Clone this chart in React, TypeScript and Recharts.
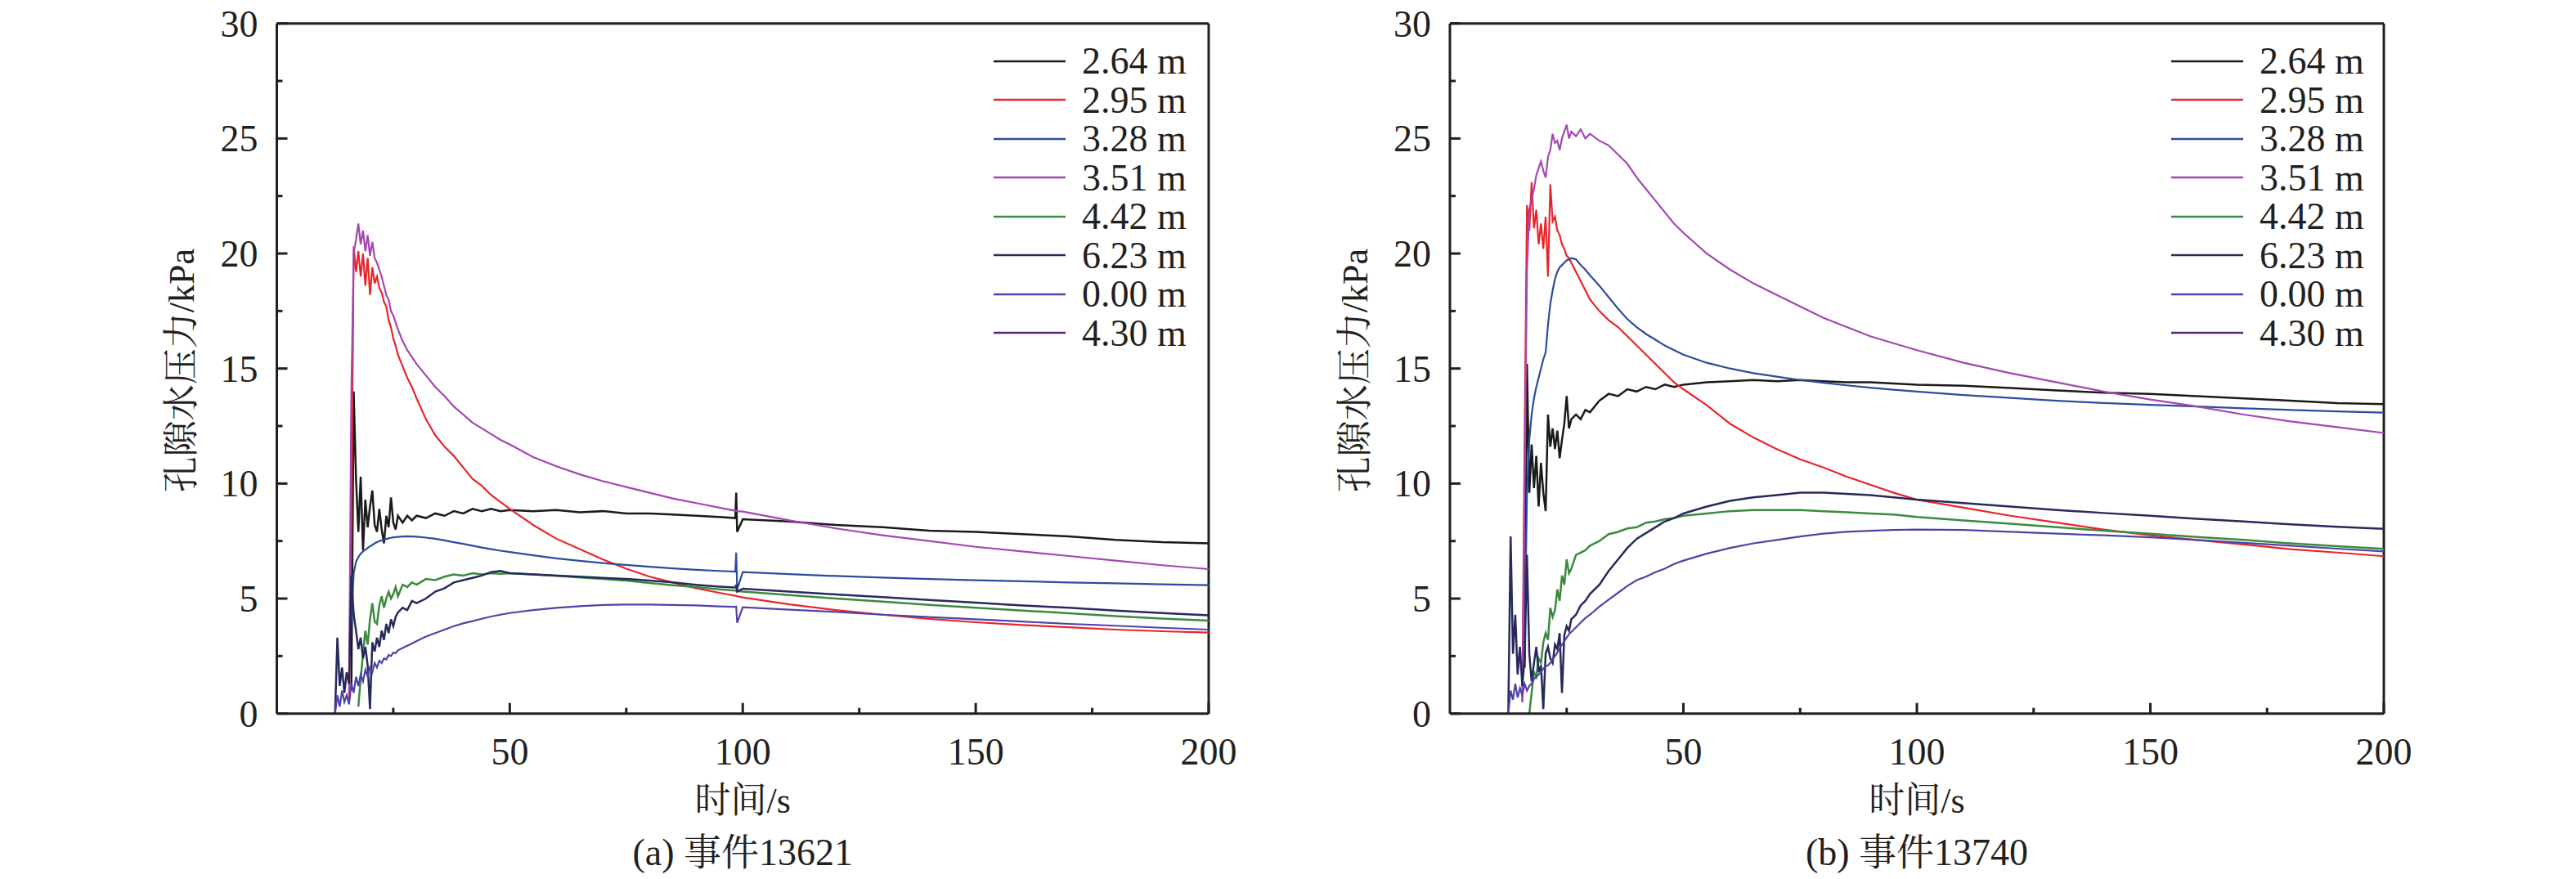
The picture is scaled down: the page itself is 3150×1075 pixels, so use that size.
import React from 'react';
import { LineChart, Line, XAxis, YAxis, ReferenceLine, Legend } from 'recharts';

const SERIF = "'Liberation Serif', 'Noto Serif CJK SC', 'Noto Sans CJK SC', serif";
const INK = '#231f20';

const depthLabels = ['2.64 m', '2.95 m', '3.28 m', '3.51 m', '4.42 m', '6.23 m', '0.00 m', '4.30 m'];
const depthColors = ['#1a1a1a', '#e8252b', '#2b4c9f', '#a347b2', '#3b8a3e', '#262a5c', '#4f43a8', '#5c2674'];

const xTicks = [25, 50, 75, 100, 125, 150, 175, 200];
const yTicks = [0, 2.5, 5, 7.5, 10, 12.5, 15, 17.5, 20, 22.5, 25, 27.5, 30];

// (a) event 13621
const tA = [12.5, 13, 13.5, 14, 14.5, 15, 15.5, 16, 16.5, 17, 17.5, 18, 18.5, 19, 19.5, 20, 20.5, 21, 21.5, 22, 22.5, 23, 23.5, 24, 24.5, 25, 25.5, 26,
  27, 28, 29, 30, 32, 34, 36, 38, 40, 42, 44, 46, 48, 50, 55, 60, 65, 70, 75, 80, 85, 90, 95, 98.4, 98.6, 98.8, 100,
  110, 120, 130, 140, 150, 160, 170, 180, 190, 200];
const a264 = [null, null, null, null, null, null, null, 1.0, 14.0, 10.2, 7.9, 10.3, 7.1, 9.3, 8.1, 9.0, 9.7,
  8.2, 7.9, 8.9, 8.0, 7.4, 8.6, 8.1, 9.4, 8.3, 8.0, 8.6, 8.3, 8.6, 8.4, 8.6,
  8.5, 8.7, 8.6, 8.8, 8.7, 8.9, 8.8, 8.9, 8.8, 8.85, 8.8, 8.85, 8.75, 8.8, 8.7, 8.7, 8.65, 8.6, 8.55,
  8.5, 9.6, 7.9, 8.45, 8.35, 8.2, 8.1, 7.95, 7.9, 7.8, 7.7, 7.55, 7.45, 7.4];
const a295 = [null, null, null, null, null, null, 0.5, 8, 20.3, 19.2, 20.1, 19.0, 20.0, 18.6, 19.8, 18.2, 19.4,
  18.7, 19.0, 18.5, 18.3, 17.9, 17.7, 17.1, 16.8, 16.3, 16.0, 15.6, 15.1, 14.6, 14.2, 13.7,
  12.8, 12.1, 11.6, 11.2, 10.7, 10.2, 9.9, 9.5, 9.2, 8.9, 8.2, 7.6, 7.15, 6.7, 6.3, 5.95, 5.7, 5.45, 5.25,
  5.12, 5.12, 5.1, 5.05, 4.75, 4.5, 4.3, 4.12, 3.97, 3.85, 3.75, 3.65, 3.58, 3.52];
const a328 = [null, null, null, null, null, null, null, 4.0, 6.1, 6.6, 6.8, 6.95, 7.05, 7.12, 7.2, 7.27, 7.33,
  7.4, 7.45, 7.5, 7.53, 7.56, 7.59, 7.62, 7.64, 7.66, 7.67, 7.68, 7.7, 7.71, 7.7, 7.69,
  7.65, 7.6, 7.53, 7.45, 7.38, 7.3, 7.22, 7.15, 7.08, 7.02, 6.88, 6.75, 6.64, 6.54, 6.46, 6.38, 6.31, 6.25, 6.2,
  6.17, 7.0, 5.4, 6.15, 6.06, 5.98, 5.91, 5.85, 5.8, 5.75, 5.7, 5.66, 5.62, 5.58];
const a351 = [null, null, null, null, null, null, 1.0, 14, 20.0, 20.6, 21.3, 20.4, 21.0, 20.1, 20.8, 19.9, 20.5,
  19.8, 19.6, 19.3, 19.0, 18.6, 18.2, 18.0, 17.5, 17.3, 17.0, 16.7, 16.2, 15.8, 15.5, 15.2,
  14.7, 14.2, 13.8, 13.35, 13.0, 12.65, 12.4, 12.15, 11.9, 11.7, 11.15, 10.75, 10.4, 10.1, 9.85, 9.6, 9.35, 9.15, 8.95,
  8.82, 8.82, 8.8, 8.78, 8.4, 8.05, 7.75, 7.5, 7.25, 7.05, 6.85, 6.65, 6.45, 6.28];
const a442 = [null, null, null, null, null, null, null, null, null, null, 0.3, 1.5, 2.6, 3.6, 3.0, 4.1, 4.8,
  4.0, 3.9, 4.7, 5.1, 4.6, 5.0, 5.3, 5.0, 5.2, 5.5, 5.1, 5.6, 5.5, 5.7, 5.6,
  5.85, 5.8, 5.95, 6.05, 6.0, 6.1, 6.05, 6.1, 6.08, 6.1, 6.05, 6.0, 5.92, 5.85, 5.78, 5.68, 5.58, 5.5, 5.4,
  5.35, 5.35, 5.33, 5.3, 5.15, 5.0, 4.87, 4.73, 4.6, 4.48, 4.36, 4.24, 4.13, 4.04];
const a623 = [0.0, 3.3, 1.2, 2.0, 0.9, 1.8, 1.3, 6.0, 4.3, 3.6, 2.8, 3.3, 2.4, 2.9, 2.1, 0.2, 3.1,
  2.7, 3.3, 2.9, 3.6, 3.2, 3.9, 3.5, 4.1, 3.8, 4.2, 4.4, 4.6, 4.5, 4.9, 4.8,
  5.0, 5.3, 5.45, 5.7, 5.8, 5.9, 6.0, 6.15, 6.2, 6.1, 6.05, 6.0, 5.95, 5.9, 5.85, 5.78, 5.7, 5.6, 5.52,
  5.48, 5.6, 5.3, 5.43, 5.3, 5.18, 5.06, 4.94, 4.82, 4.7, 4.6, 4.48, 4.37, 4.27];
const a000 = [0.0, 0.8, 0.3, 1.0, 0.5, 0.8, 0.4, 1.3, 0.9, 1.6, 1.2, 1.7, 1.4, 1.9, 1.6, 2.0, 1.8,
  2.2, 2.0, 2.3, 2.2, 2.4, 2.35, 2.55, 2.5, 2.65, 2.62, 2.75, 2.85, 2.95, 3.05, 3.15,
  3.35, 3.5, 3.65, 3.8, 3.92, 4.02, 4.12, 4.22, 4.3, 4.37, 4.5, 4.6, 4.67, 4.72, 4.74, 4.74, 4.72, 4.7, 4.66,
  4.64, 4.65, 3.95, 4.62, 4.52, 4.42, 4.3, 4.2, 4.1, 4.0, 3.9, 3.82, 3.73, 3.65];
const a430: (number | null)[] = [];

// (b) event 13740
const tB = [12.5, 13, 13.5, 14, 14.5, 15, 15.5, 16, 16.5, 17, 17.5, 18, 18.5, 19, 19.5, 20, 20.5, 21, 21.5, 22, 22.5, 23, 23.5, 24, 24.5, 25, 25.5, 26,
  27, 28, 29, 30, 32, 34, 36, 38, 40, 42, 44, 46, 48, 50, 55, 60, 65, 70, 75, 80, 85, 90, 95, 100,
  110, 120, 130, 140, 150, 160, 170, 180, 190, 200];
const b264 = [null, null, null, null, null, null, null, 2.0, 15.2, 9.6, 11.7, 9.8, 11.2, 9.0, 10.9, 9.6, 8.8,
  13.0, 11.6, 12.4, 11.5, 12.3, 11.1, 11.9, 12.6, 13.8, 12.4, 12.8, 13.0, 12.8, 13.2, 13.1,
  13.6, 13.9, 13.8, 14.1, 14.0, 14.2, 14.1, 14.3, 14.2, 14.3, 14.4, 14.45, 14.5, 14.45, 14.5, 14.45, 14.4, 14.4, 14.35,
  14.3, 14.25, 14.15, 14.05, 13.95, 13.9, 13.8, 13.7, 13.6, 13.5, 13.45];
const b295 = [null, null, null, null, null, null, 0.5, 12, 22.1, 21.0, 23.1, 21.1, 21.9, 20.4, 21.3, 20.2, 21.6,
  19.0, 23.0, 21.4, 21.6, 21.0, 20.8, 20.4, 20.2, 19.9, 19.8, 19.6, 19.2, 18.8, 18.4, 18.0,
  17.5, 17.1, 16.8, 16.4, 16.0, 15.6, 15.2, 14.8, 14.4, 14.1, 13.4, 12.6, 12.0, 11.5, 11.05, 10.7, 10.3, 9.95, 9.6,
  9.3, 8.95, 8.6, 8.3, 8.0, 7.75, 7.55, 7.35, 7.15, 7.0, 6.84];
const b328 = [null, null, null, null, null, null, null, 3.0, 9.5, 11.9, 13.0, 13.7, 14.2, 14.6, 15.0, 15.4, 15.7,
  16.9, 17.8, 18.4, 18.9, 19.2, 19.4, 19.5, 19.6, 19.7, 19.75, 19.8, 19.75, 19.5, 19.3, 19.05,
  18.6, 18.1, 17.6, 17.15, 16.8, 16.5, 16.25, 16.0, 15.8, 15.6, 15.25, 15.0, 14.8, 14.65, 14.5, 14.38, 14.27, 14.17, 14.08,
  14.0, 13.85, 13.72, 13.6, 13.5, 13.42, 13.35, 13.27, 13.2, 13.14, 13.08];
const b351 = [null, null, null, null, null, null, 0.5, 10, 19.2, 21.9, 22.4, 22.8, 23.4, 23.7, 24.0, 23.6, 23.3,
  24.2, 24.5, 25.2, 24.8, 24.9, 24.5, 25.0, 25.3, 25.6, 25.0, 25.3, 25.1, 25.4, 25.0, 25.2,
  24.9, 24.7, 24.3, 23.9, 23.3, 22.8, 22.3, 21.8, 21.3, 20.9, 20.0, 19.3, 18.7, 18.2, 17.7, 17.2, 16.8, 16.4, 16.1,
  15.8, 15.25, 14.8, 14.4, 14.0, 13.65, 13.35, 13.0, 12.7, 12.45, 12.2];
const b442 = [null, null, null, null, null, null, null, null, null, 0.0, 0.9, 1.8, 1.6, 2.4, 2.2, 3.1, 3.5,
  3.2, 4.6, 4.2, 4.5, 5.4, 4.9, 6.0, 5.6, 6.7, 6.1, 6.3, 6.9, 7.0, 7.1, 7.3,
  7.5, 7.8, 7.9, 8.05, 8.1, 8.3, 8.35, 8.45, 8.5, 8.6, 8.7, 8.8, 8.85, 8.85, 8.85, 8.8, 8.75, 8.7, 8.65,
  8.55, 8.4, 8.25, 8.1, 7.95, 7.82, 7.68, 7.55, 7.4, 7.28, 7.16];
const b623 = [0.0, 7.7, 2.6, 4.3, 1.7, 2.9, 1.2, 2.4, 6.9, 2.6, 1.4, 2.2, 2.9, 1.8, 2.1, 0.2, 2.6,
  2.9, 2.4, 2.2, 3.0, 2.8, 3.5, 0.9, 3.4, 3.8, 3.6, 4.1, 4.3, 4.7, 4.9, 5.2,
  5.6, 6.2, 6.7, 7.2, 7.6, 7.85, 8.1, 8.35, 8.5, 8.7, 9.0, 9.25, 9.4, 9.5, 9.6, 9.6, 9.55, 9.5, 9.4,
  9.3, 9.15, 9.0, 8.85, 8.72, 8.6, 8.47, 8.35, 8.23, 8.12, 8.03];
const b000 = [0.0, 1.0, 0.6, 1.3, 0.7, 1.1, 0.8, 1.3, 1.0, 1.2, 1.3, 1.5, 1.6, 1.7, 1.8, 1.95, 2.05,
  2.1, 2.2, 2.35, 2.5, 2.65, 2.85, 3.0, 3.15, 3.3, 3.45, 3.55, 3.75, 3.95, 4.15, 4.3,
  4.65, 4.95, 5.25, 5.55, 5.8, 5.95, 6.15, 6.3, 6.5, 6.65, 6.95, 7.2, 7.4, 7.55, 7.7, 7.82, 7.9, 7.95, 7.98,
  8.0, 7.98, 7.9, 7.82, 7.75, 7.66, 7.55, 7.42, 7.3, 7.17, 7.05];
const b430: (number | null)[] = [];

const PANEL_W = 1575;
const PANEL_H = 1075;
const PLOT_TOP = 28.7;
const PLOT_BOTTOM = 872.7;
const AXIS_SIZE = 60;

const XTick = (props: any) => {
  const { x, y, payload } = props;
  const major = payload.value % 50 === 0;
  return (
    <g>
      <line x1={x} x2={x} y1={y} y2={y - (major ? 13 : 7)} stroke={INK} strokeWidth={3} />
      {major && (
        <text x={x} y={y + 62} textAnchor="middle" fontSize={46} fill={INK} fontFamily={SERIF}>
          {payload.value}
        </text>
      )}
    </g>
  );
};

const YTick = (props: any) => {
  const { x, y, payload } = props;
  const major = payload.value % 5 === 0;
  return (
    <g>
      <line x1={x} x2={x + (major ? 13 : 7)} y1={y} y2={y} stroke={INK} strokeWidth={3} />
      {major && (
        <text x={x - 23} y={y + 16} textAnchor="end" fontSize={46} fill={INK} fontFamily={SERIF}>
          {payload.value}
        </text>
      )}
    </g>
  );
};

const LegendBox = (props: any) => {
  const items = [...(props.payload || [])].sort(
    (a: any, b: any) => depthLabels.indexOf(a.value) - depthLabels.indexOf(b.value),
  );
  return (
    <div style={{ fontFamily: SERIF }}>
      {items.map((p: any) => (
        <div key={p.value} style={{ height: 47.5, display: 'flex', alignItems: 'center' }}>
          <svg width={88} height={4} style={{ display: 'block' }}>
            <line x1={0} x2={88} y1={2} y2={2} stroke={p.color} strokeWidth={2.5} />
          </svg>
          <span style={{ marginLeft: 20, fontSize: 46, lineHeight: '47.5px', color: INK, whiteSpace: 'nowrap' }}>{p.value}</span>
        </div>
      ))}
    </div>
  );
};

interface PanelProps {
  left: number;
  plotLeft: number;
  plotRight: number;
  times: number[];
  values: (number | null)[][];
  legendLeft: number;
  caption: string;
}

function Panel({ left, plotLeft, plotRight, times, values, legendLeft, caption }: PanelProps) {
  const rows = times.map((t, i) => {
    const row: Record<string, number> = { t };
    values.forEach((arr, k) => {
      const v = arr[i];
      if (v !== null && v !== undefined) row['s' + k] = v;
    });
    return row;
  });
  const cx = (plotLeft + plotRight) / 2;
  const textStyle: React.CSSProperties = { position: 'absolute', textAlign: 'center', color: INK, fontFamily: SERIF, whiteSpace: 'nowrap' };

  return (
    <div style={{ position: 'absolute', left, top: 0, width: PANEL_W, height: PANEL_H }}>
      <LineChart
        width={PANEL_W}
        height={PANEL_H}
        data={rows}
        margin={{
          top: PLOT_TOP,
          bottom: PANEL_H - PLOT_BOTTOM - AXIS_SIZE,
          left: plotLeft - AXIS_SIZE,
          right: PANEL_W - plotRight,
        }}
      >
        <XAxis
          dataKey="t" type="number" domain={[0, 200]} ticks={xTicks} interval={0}
          height={AXIS_SIZE} tickSize={0} tickMargin={0} tickLine={false}
          axisLine={{ stroke: INK, strokeWidth: 3 }}
          tick={(p: any) => <XTick {...p} />}
        />
        <YAxis
          type="number" domain={[0, 30]} ticks={yTicks} interval={0}
          width={AXIS_SIZE} tickSize={0} tickMargin={0} tickLine={false}
          axisLine={{ stroke: INK, strokeWidth: 3 }}
          tick={(p: any) => <YTick {...p} />}
        />
        <ReferenceLine y={30} stroke={INK} strokeWidth={3} />
        <ReferenceLine x={200} stroke={INK} strokeWidth={3} />
        {depthLabels.map((name, k) => (
          <Line
            key={name}
            type="linear"
            dataKey={'s' + k}
            name={name}
            stroke={depthColors[k]}
            strokeWidth={k === 0 || k === 4 || k === 5 ? 2.5 : 2.2}
            dot={false}
            activeDot={false}
            isAnimationActive={false}
          />
        ))}
        <Legend
          layout="vertical" align="center" verticalAlign="middle"
          wrapperStyle={{ top: 51, left: legendLeft, width: 260 }}
          content={(p: any) => <LegendBox {...p} />}
        />
      </LineChart>
      <div style={{ ...textStyle, left: plotLeft - 115.5 - 250, top: 453 - 30, width: 500, height: 60, lineHeight: '60px', fontSize: 44, transform: 'rotate(-90deg)' }}>
        孔隙水压力/kPa
      </div>
      <div style={{ ...textStyle, left: cx - 300, top: 980 - 30, width: 600, height: 60, lineHeight: '60px', fontSize: 44 }}>
        时间/s
      </div>
      <div style={{ ...textStyle, left: cx - 300, top: 1043 - 30, width: 600, height: 60, lineHeight: '60px', fontSize: 46 }}>
        {caption}
      </div>
    </div>
  );
}

export default function App() {
  return (
    <div style={{ position: 'absolute', left: 0, top: 0, width: 3150, height: 1075, background: '#fff', overflow: 'hidden' }}>
      <Panel
        left={0} plotLeft={338.5} plotRight={1478}
        times={tA} values={[a264, a295, a328, a351, a442, a623, a000, a430]}
        legendLeft={1215} caption="(a) 事件13621"
      />
      <Panel
        left={1575} plotLeft={198} plotRight={1340}
        times={tB} values={[b264, b295, b328, b351, b442, b623, b000, b430]}
        legendLeft={1080} caption="(b) 事件13740"
      />
    </div>
  );
}
